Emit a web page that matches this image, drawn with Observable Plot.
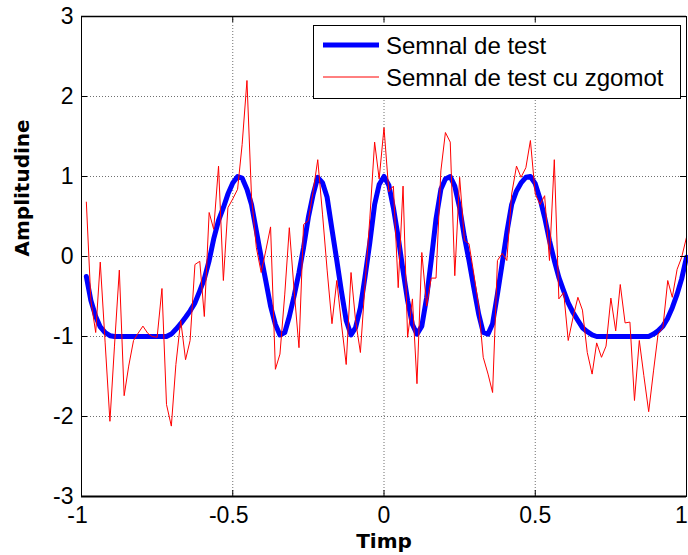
<!DOCTYPE html>
<html>
<head>
<meta charset="utf-8">
<script src="https://cdn.jsdelivr.net/npm/d3@7"></script>
<script src="https://cdn.jsdelivr.net/npm/@observablehq/plot@0.6"></script>
<style>
  html, body { margin: 0; padding: 0; background: #fff; overflow: hidden; }
  #chart { width: 688px; height: 555px; }
</style>
</head>
<body>
<div id="chart"></div>
<script>
// Sample times (s), step 1/64
const timp = [
  -0.984, -0.969, -0.953, -0.938, -0.922, -0.906, -0.891, -0.875, -0.859, -0.844,
  -0.828, -0.813, -0.797, -0.781, -0.766, -0.75, -0.734, -0.719, -0.703, -0.688,
  -0.672, -0.656, -0.641, -0.625, -0.609, -0.594, -0.578, -0.563, -0.547, -0.531,
  -0.516, -0.5, -0.484, -0.469, -0.453, -0.438, -0.422, -0.406, -0.391, -0.375,
  -0.359, -0.344, -0.328, -0.313, -0.297, -0.281, -0.266, -0.25, -0.234, -0.219,
  -0.203, -0.188, -0.172, -0.156, -0.141, -0.125, -0.109, -0.094, -0.078, -0.063,
  -0.047, -0.031, -0.016, 0, 0.016, 0.031, 0.047, 0.063, 0.078, 0.094,
  0.109, 0.125, 0.141, 0.156, 0.172, 0.188, 0.203, 0.219, 0.234, 0.25,
  0.266, 0.281, 0.297, 0.313, 0.328, 0.344, 0.359, 0.375, 0.391, 0.406,
  0.422, 0.438, 0.453, 0.469, 0.484, 0.5, 0.516, 0.531, 0.547, 0.563,
  0.578, 0.594, 0.609, 0.625, 0.641, 0.656, 0.672, 0.688, 0.703, 0.719,
  0.734, 0.75, 0.766, 0.781, 0.797, 0.813, 0.828, 0.844, 0.859, 0.875,
  0.891, 0.906, 0.922, 0.938, 0.953, 0.969, 0.984, 1
];

// Clean test signal
const semnal = [
  -0.25, -0.55, -0.75, -0.88, -0.95, -0.99, -1, -1, -1, -1,
  -1, -1, -1, -1, -1, -1, -1, -1, -0.97, -0.91,
  -0.84, -0.76, -0.68, -0.58, -0.43, -0.28, -0.05, 0.22, 0.45, 0.61,
  0.78, 0.92, 1.0, 0.98, 0.84, 0.65, 0.32, -0.01, -0.30, -0.62,
  -0.85, -0.98, -0.95, -0.75, -0.49, -0.20, 0.11, 0.49, 0.78, 0.99,
  0.92, 0.74, 0.34, -0.05, -0.43, -0.80, -0.98, -0.89, -0.64, -0.26,
  0.17, 0.65, 0.90, 1.0, 0.89, 0.61, 0.24, -0.18, -0.55, -0.85,
  -0.97, -0.87, -0.51, -0.05, 0.47, 0.84, 0.97, 1.0, 0.88, 0.61,
  0.24, -0.05, -0.39, -0.72, -0.95, -0.97, -0.84, -0.47, -0.08, 0.30,
  0.65, 0.82, 0.92, 0.99, 1.0, 0.91, 0.72, 0.49, 0.20, -0.05,
  -0.26, -0.43, -0.58, -0.70, -0.80, -0.89, -0.94, -0.98, -1, -1,
  -1, -1, -1, -1, -1, -1, -1, -1, -1, -1,
  -0.97, -0.93, -0.87, -0.77, -0.64, -0.47, -0.28, -0.01
];

// Same signal with added noise
const semnalZgomot = [
  0.68, -0.55, -0.95, -0.07, -1.07, -2.06, -1.12, -0.17, -1.74, -1.37,
  -1.05, -0.96, -0.87, -0.96, -1.0, -1.01, -0.40, -1.85, -2.12, -1.35,
  -0.80, -1.29, -1.05, -0.10, -0.06, -0.75, 0.55, 0.34, 1.13, -0.30,
  0.61, 0.72, 0.84, 1.40, 2.20, 0.75, 0.11, -0.20, 0.07, 0.37,
  -1.41, -1.22, -0.47, 0.36, -0.43, -1.14, 0.40, 0.45, 0.82, 1.21,
  0.52, -0.17, -0.84, -0.30, -0.83, -1.35, -0.20, -0.80, -1.20, -0.36,
  0.47, 1.43, 0.97, 1.61, 0.81, 0.88, -0.39, 0.88, -1.01, -0.53,
  -1.59, 0.05, -0.62, -0.27, -0.27, 1.07, 1.55, 1.43, -0.24, 0.99,
  0.20, 0.16, -0.22, -0.62, -1.26, -1.47, -1.70, -0.05, 0.04, -0.05,
  0.78, 1.13, 0.99, 1.11, 1.45, 0.78, 0.65, 0.76, -0.05, 1.21,
  -0.53, -0.45, -1.05, -0.76, -0.51, -0.67, -1.20, -1.47, -1.08, -1.26,
  -1.12, -0.52, -0.93, -0.35, -0.83, -0.82, -1.80, -1.05, -1.49, -1.94,
  -1.43, -0.97, -0.89, -0.30, -0.51, -0.16, -0.01, 0.24
];

const xTicks = [-1, -0.5, 0, 0.5, 1];
const yTicks = [-3, -2, -1, 0, 1, 2, 3];
const seriesNames = ["Semnal de test", "Semnal de test cu zgomot"];
const xLabel = "Timp";
const yLabel = "Amplitudine";

const rows = timp.map((t, i) => ({t, s: semnal[i], n: semnalZgomot[i]}));

const W = 688, H = 555;
const mL = 81, mR = 2, mT = 16, mB = 59;
const innerW = W - mL - mR, innerH = H - mT - mB;
const tickLen = 6;
const tickFont = "'Liberation Sans', Arial, Helvetica, sans-serif";
const titleFont = "'DejaVu Sans', Verdana, sans-serif";
const fmt = d => String(d);
const xAxisText = {tickSize: 0, tickPadding: 10, tickFormat: fmt, fontSize: 23, fontFamily: tickFont, label: null};

const svg = Plot.plot({
  width: W,
  height: H,
  marginLeft: mL,
  marginRight: mR,
  marginTop: mT,
  marginBottom: mB,
  style: {background: "#fff", color: "#000"},
  x: {domain: [-1, 1]},
  y: {domain: [-3, 3]},
  marks: [
    // dotted grid
    Plot.gridX(xTicks, {stroke: "#6f6f6f", strokeOpacity: 1, strokeDasharray: "1,2"}),
    Plot.gridY(yTicks, {stroke: "#6f6f6f", strokeOpacity: 1, strokeDasharray: "1,2"}),
    // signals
    Plot.line(rows, {x: "t", y: "s", stroke: "#0000ff", strokeWidth: 5, strokeLinejoin: "round"}),
    Plot.line(rows, {x: "t", y: "n", stroke: "#ff0000", strokeWidth: 1}),
    // axes box with inward ticks on all sides
    Plot.frame({stroke: "#000", strokeWidth: 1}),
    Plot.ruleY([-3], {stroke: "#000", strokeWidth: 2}),
    Plot.ruleY([3], {stroke: "#000", strokeWidth: 1.5}),
    Plot.tickX(xTicks, {x: d => d, stroke: "#000", insetTop: innerH - tickLen}),
    Plot.tickX(xTicks, {x: d => d, stroke: "#000", insetBottom: innerH - tickLen}),
    Plot.tickY(yTicks, {y: d => d, stroke: "#000", insetRight: innerW - tickLen}),
    Plot.tickY(yTicks, {y: d => d, stroke: "#000", insetLeft: innerW - tickLen}),
    // tick labels (minus sign hangs left of the centred number)
    Plot.axisX(xTicks.filter(d => d < 0), {...xAxisText, dx: -4}),
    Plot.axisX(xTicks.filter(d => d >= 0 && d < 1), xAxisText),
    Plot.axisX(xTicks.filter(d => d === 1), {...xAxisText, dx: -5}),
    Plot.axisY(yTicks, {tickSize: 0, tickPadding: 8, tickFormat: fmt, fontSize: 23, fontFamily: tickFont, label: null}),
    // axis titles
    Plot.text([xLabel], {text: d => d, frameAnchor: "bottom", lineAnchor: "middle", dy: 44.6, fontSize: 20, fontWeight: "bold", fontFamily: titleFont, fill: "#000"}),
    Plot.text([yLabel], {text: d => d, frameAnchor: "left", lineAnchor: "middle", dx: -59, rotate: -90, fontSize: 20, fontWeight: "bold", fontFamily: titleFont, fill: "#000"})
  ]
});

// legend box in the upper right of the axes
const lg = d3.select(svg).append("g").attr("text-anchor", "start");
lg.append("rect")
  .attr("x", 313.5).attr("y", 25.5).attr("width", 367).attr("height", 73)
  .attr("fill", "#fff").attr("stroke", "#000").attr("stroke-width", 1);
const legendItems = [
  {name: seriesNames[0], color: "#0000ff", width: 5, y: 45},
  {name: seriesNames[1], color: "#ff0000", width: 1, y: 77}
];
for (const it of legendItems) {
  lg.append("line")
    .attr("x1", 323).attr("x2", 379).attr("y1", it.y).attr("y2", it.y)
    .attr("stroke", it.color).attr("stroke-width", it.width);
  lg.append("text")
    .attr("x", 386).attr("y", it.y + 8.6)
    .attr("text-anchor", "start")
    .attr("font-family", tickFont).attr("font-size", 24).attr("fill", "#000")
    .text(it.name);
}

document.getElementById("chart").appendChild(svg);
</script>
</body>
</html>
